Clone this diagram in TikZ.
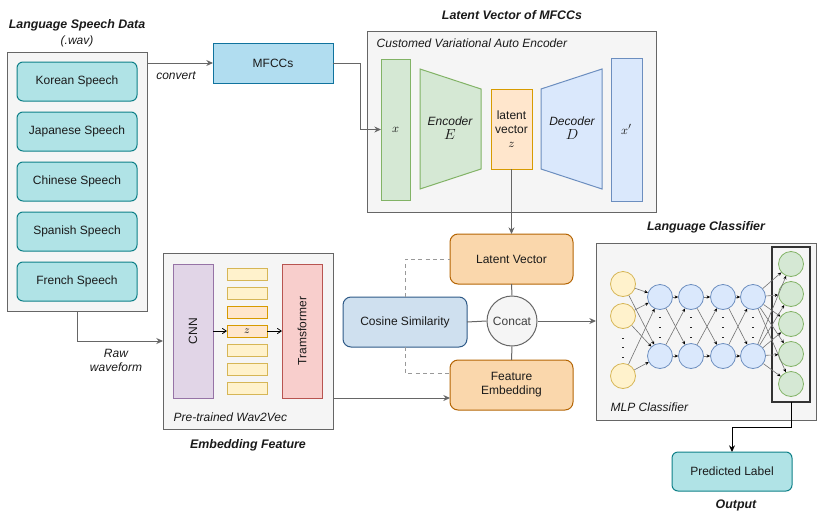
\documentclass[tikz,border=0pt]{standalone}
\usepackage{fontspec}
\setmainfont{Liberation Sans}
\usetikzlibrary{arrows.meta,calc}
\definecolor{txt}{HTML}{1A1A1A}
\definecolor{tealF}{HTML}{B0E3E6}
\definecolor{tealL}{HTML}{0E8088}
\definecolor{mfF}{HTML}{B1DDF0}
\definecolor{mfL}{HTML}{10739E}
\definecolor{grpF}{HTML}{F5F5F5}
\definecolor{grpL}{HTML}{666666}
\definecolor{grnF}{HTML}{D5E8D4}
\definecolor{grnL}{HTML}{82B366}
\definecolor{orF}{HTML}{FFE6CC}
\definecolor{orL}{HTML}{D79B00}
\definecolor{bluF}{HTML}{DAE8FC}
\definecolor{bluL}{HTML}{6C8EBF}
\definecolor{purF}{HTML}{E1D5E7}
\definecolor{purL}{HTML}{9673A6}
\definecolor{redF}{HTML}{F8CECC}
\definecolor{redL}{HTML}{B85450}
\definecolor{yelF}{HTML}{FFF2CC}
\definecolor{yelL}{HTML}{D6B656}
\definecolor{lvF}{HTML}{FAD7AC}
\definecolor{lvL}{HTML}{B46504}
\definecolor{cosF}{HTML}{CFE0EF}
\definecolor{cosL}{HTML}{2E5A87}
\definecolor{cgray}{HTML}{666666}
\newcommand{\upx}{0.75pt}
\begin{document}
\begin{tikzpicture}[x=0.75pt,y=-0.75pt,
  every node/.style={font=\fontsize{9}{10.5}\selectfont, text=txt},
  box/.style={draw, rectangle, inner sep=0pt, outer sep=0pt, align=center, line width=0.75pt},
  grp/.style={box, fill=grpF, draw=grpL},
  sp/.style={box, rounded corners=4.5pt, fill=tealF, draw=tealL, minimum width=120*\upx, minimum height=39*\upx},
  lvbox/.style={box, rounded corners=6pt, fill=lvF, draw=lvL, minimum width=123*\upx, minimum height=50*\upx},
  tok/.style={box, fill=yelF, draw=yelL, minimum width=40*\upx, minimum height=12*\upx},
  tokO/.style={box, fill=orF, draw=orL, minimum width=40*\upx, minimum height=12*\upx},
  ttl/.style={font=\fontsize{9.3}{11}\selectfont\bfseries\itshape},
  itl/.style={font=\fontsize{9}{10.5}\selectfont\itshape, align=center},
  conn/.style={draw=cgray, line width=0.75pt, -{Stealth[length=5pt,width=4.5pt]}},
  plain/.style={draw=cgray, line width=0.75pt},
  dsh/.style={draw=gray!80, line width=0.75pt, dash pattern=on 3pt off 2.5pt},
  neu/.style={circle, draw, line width=0.6pt, minimum size=25*\upx, inner sep=0pt},
  nY/.style={neu, fill=yelF, draw=yelL},
  nB/.style={neu, fill=bluF, draw=bluL},
  nG/.style={neu, fill=grnF, draw=grnL},
  wire/.style={draw=gray!90!black, line width=0.45pt, -{Stealth[length=2.6pt,width=2.4pt,color=black]}},
]
\useasboundingbox (0,0) rectangle (817,521);

% ---------- Language speech data ----------
\node[ttl] (tlang) at (77,25) {Language Speech Data};
\node[itl] (twav) at (77,41) {(.wav)};
\node[grp, minimum width=140*\upx, minimum height=259*\upx] (lang) at (77,181.5) {};
\node[sp] (kor) at (77,81.5) {Korean Speech};
\node[sp] (jap) at (77,131.5) {Japanese Speech};
\node[sp] (chi) at (77,181.5) {Chinese Speech};
\node[sp] (spa) at (77,231.5) {Spanish Speech};
\node[sp] (fre) at (77,281.5) {French Speech};

% ---------- MFCCs ----------
\node[box, fill=mfF, draw=mfL, minimum width=120*\upx, minimum height=40*\upx] (mfcc) at (273,63) {MFCCs};
\draw[conn] (lang.east |- mfcc.west) -- (mfcc.west);
\node[itl] (tconv) at (176,76) {convert};

% ---------- VAE ----------
\node[ttl] (tvae) at (512,15) {Latent Vector of MFCCs};
\node[grp, minimum width=289*\upx, minimum height=181*\upx] (vae) at (511.5,121.5) {};
\node[itl, anchor=west] (tcvae) at (372,43) {Customed Variational Auto Encoder};
\node[box, fill=grnF, draw=grnL, minimum width=29*\upx, minimum height=141*\upx, font=\fontsize{9.5}{11}\selectfont] (xr) at (395.5,129.5) {$x$};
\draw[fill=grnF, draw=grnL, line width=0.75pt] (420,69) -- (481,89) -- (481,169) -- (420,189) -- cycle;
\node[itl] (enc) at (450,128) {Encoder\\{\fontsize{10.5}{11}\selectfont$E$}};
\node[box, fill=orF, draw=orL, minimum width=41*\upx, minimum height=80*\upx] (lat) at (511.5,129) {latent\\vector\\{\fontsize{9.5}{11}\selectfont$z$}};
\draw[fill=bluF, draw=bluL, line width=0.75pt] (541,89) -- (602,69) -- (602,189) -- (541,169) -- cycle;
\node[itl] (dec) at (572,128) {Decoder\\{\fontsize{10.5}{11}\selectfont$D$}};
\node[box, fill=bluF, draw=bluL, minimum width=31*\upx, minimum height=143*\upx, font=\fontsize{9.5}{11}\selectfont] (xp) at (626.5,129.5) {$x'$};
\draw[conn] (mfcc.east) -- ++(27,0) |- (xr.west);

% ---------- Wav2Vec ----------
\node[grp, minimum width=170*\upx, minimum height=176*\upx] (wav) at (248,341) {};
\node[box, fill=purF, draw=purL, minimum width=40*\upx, minimum height=134*\upx] (cnn) at (193,331) {};
\node[rotate=90] (tcnn) at (cnn.center) {CNN};
\node[box, fill=redF, draw=redL, minimum width=40*\upx, minimum height=134*\upx] (tr) at (302,331) {};
\node[rotate=90] (ttr) at (tr.center) {Tramsformer};
\node[tok] (z1) at (247,274) {};
\node[tok] (z2) at (247,293) {};
\node[tokO] (z3) at (247,312) {};
\node[tokO, font=\fontsize{8.5}{9}\selectfont] (z4) at (247,331) {$z$};
\node[tok] (z5) at (247,350) {};
\node[tok] (z6) at (247,369) {};
\node[tok] (z7) at (247,388) {};
\draw[line width=0.6pt, -{Straight Barb[length=3pt,width=4pt]}] (cnn.east) -- (z4.west);
\draw[line width=0.6pt, -{Straight Barb[length=3pt,width=4pt]}] (z4.east) -- (tr.west);
\node[itl, anchor=west] (tw2v) at (169,417) {Pre-trained Wav2Vec};
\node[ttl] (temb) at (248,445) {Embedding Feature};
\draw[conn] (lang.south) |- (wav.west);
\node[itl] (traw) at (116,360) {Raw\\waveform};

% ---------- Middle ----------
\node[lvbox] (lv) at (511.5,259) {Latent Vector};
\node[lvbox] (fe) at (511.5,385) {Feature\\Embedding};
\node[box, rounded corners=6pt, fill=cosF, draw=cosL, minimum width=124*\upx, minimum height=50*\upx] (cos) at (405,322) {Cosine Similarity};
\node[circle, draw=cgray, fill=grpF, line width=0.75pt, minimum size=50*\upx, inner sep=0pt, text=black!75] (cc) at (512,321) {Concat};
\draw[conn] (lat.south) -- (lv.north);
\draw[plain] (lv.south) -- (cc.north);
\draw[plain] (cc.south) -- (fe.north);
\draw[plain] (cos.east) -- (cc.west);
\draw[dsh] (cos.north) |- (lv.west);
\draw[dsh] (cos.south) |- ([yshift=9pt]fe.west);
\coordinate (w2) at (333,398);
\draw[conn] (w2) -- (w2 -| fe.west);

% ---------- MLP ----------
\node[ttl] (tmlp) at (706,227) {Language Classifier};
\node[grp, minimum width=220*\upx, minimum height=177*\upx] (mlp) at (706,331.5) {};
\draw[conn] (cc.east) -- (cc.east -| mlp.west);
\node[itl, anchor=west] (tmlpc) at (606,407) {MLP Classifier};
\node[box, draw=black!80, line width=1.2pt, minimum width=38*\upx, minimum height=155*\upx] (outb) at (791,324.5) {};

\node[nY] (y1) at (623,284) {};
\node[nY] (y2) at (623,316) {};
\node[nY] (y3) at (623,376) {};
\foreach \c/\x in {1/660,2/691,3/723,4/753}{
  \node[nB] (b\c1) at (\x,297) {};
  \node[nB] (b\c2) at (\x,356) {};
  \foreach \yy in {317,327,337} \fill[black!85] (\x-0.9,\yy-0.45) rectangle (\x+0.9,\yy+0.45);
}
\foreach \yy in {338,347,357} \fill[black!85] (623-0.9,\yy-0.45) rectangle (623+0.9,\yy+0.45);
\foreach \g/\yy in {1/264,2/294,3/324,4/354,5/384} \node[nG] (g\g) at (791,\yy) {};

\foreach \i in {1,2,3} \foreach \j in {1,2} \draw[wire] (y\i) -- (b1\j);
\foreach \a/\b in {1/2,2/3,3/4} \foreach \i in {1,2} \foreach \j in {1,2} \draw[wire] (b\a\i) -- (b\b\j);
\foreach \i in {1,2} \foreach \g in {1,...,5} \draw[wire] (b4\i) -- (g\g);

% ---------- Output ----------
\node[box, rounded corners=4.5pt, fill=tealF, draw=tealL, minimum width=120*\upx, minimum height=39*\upx] (pred) at (732,471.5) {Predicted Label};
\draw[line width=0.75pt, -{Stealth[length=5pt,width=4.5pt]}] (outb.south) -- ++(0,25) -| (pred.north);
\node[ttl] (tout) at (736,505) {Output};
\end{tikzpicture}
\end{document}
